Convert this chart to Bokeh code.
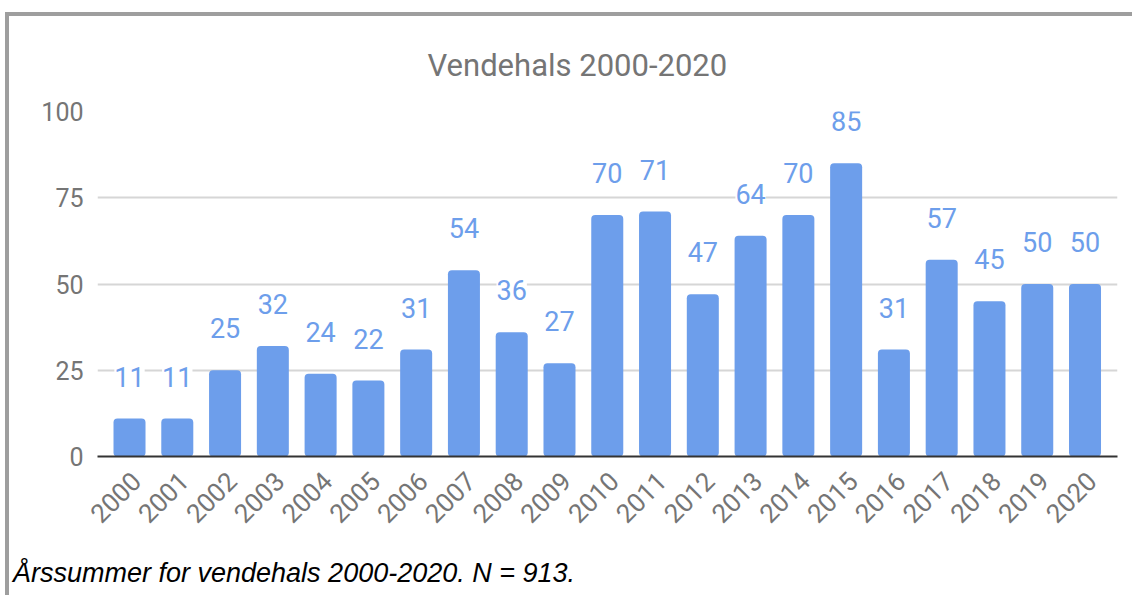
import math
from bokeh.plotting import figure
from bokeh.layouts import column
from bokeh.models import Range1d, FixedTicker, ColumnDataSource, LabelSet, Div
from bokeh.core.properties import value
from bokeh.embed import file_html
from bokeh.resources import INLINE

years = ["2000", "2001", "2002", "2003", "2004", "2005", "2006", "2007", "2008", "2009",
         "2010", "2011", "2012", "2013", "2014", "2015", "2016", "2017", "2018", "2019", "2020"]
counts = [11, 11, 25, 32, 24, 22, 31, 54, 36, 27, 70, 71, 47, 64, 70, 85, 31, 57, 45, 50, 50]
y_ticks = [0, 25, 50, 75, 100]
title_text = "Vendehals 2000-2020"
caption_text = "Årssummer for vendehals 2000-2020. N = 913."

BAR = "#6d9eeb"
GRAY = "#757575"
FONT = "Roboto"
BORDER = "4px solid #9e9e9e"

xs = list(range(len(years)))
src = ColumnDataSource(dict(x=xs, top=counts, lbl=[str(c) for c in counts]))

p = figure(width=1123, height=539, output_backend="svg", toolbar_location=None,
           x_range=Range1d(-0.67, len(years) - 1 + 0.68), y_range=Range1d(0, 100),
           min_border_left=88, min_border_right=15, min_border_top=94, min_border_bottom=99)
p.outline_line_color = None
p.background_fill_color = "white"
p.border_fill_color = "white"

p.vbar(x="x", top="top", width=0.67, bottom=0, source=src, fill_color=BAR, line_color=None,
       border_radius=4)

# title
p.title.text = title_text
p.title.align = "left"
p.title.offset = 330
p.title.standoff = 56
p.title.text_font = FONT
p.title.text_font_size = "31px"
p.title.text_font_style = "normal"
p.title.text_color = GRAY

# x axis
shift = 0.14
p.xaxis.ticker = FixedTicker(ticks=[i + shift for i in xs])
p.xaxis.major_label_overrides = {i + shift: y for i, y in enumerate(years)}
p.xaxis.major_label_orientation = math.pi / 4
p.xaxis.axis_line_color = "#333333"
p.xaxis.axis_line_width = 2
p.xaxis.major_tick_line_color = None
p.xaxis.minor_tick_line_color = None
p.xaxis.major_label_text_font = FONT
p.xaxis.major_label_text_font_size = "26px"
p.xaxis.major_label_text_color = GRAY
p.xaxis.major_label_standoff = 14
p.xgrid.grid_line_color = None

# y axis
p.yaxis.ticker = FixedTicker(ticks=y_ticks)
p.yaxis.axis_line_color = None
p.yaxis.major_tick_line_color = None
p.yaxis.minor_tick_line_color = None
p.yaxis.major_label_text_font = FONT
p.yaxis.major_label_text_font_size = "25px"
p.yaxis.major_label_text_color = GRAY
p.yaxis.major_label_standoff = 8
p.ygrid.grid_line_color = "#d6d6d6"
p.ygrid.grid_line_width = 2

labels = LabelSet(x="x", y="top", text="lbl", source=src, y_offset=32,
                  text_align="center", text_baseline="alphabetic",
                  text_font=value(FONT), text_font_size=value("27px"), text_color=BAR,
                  background_fill_color="white")
p.add_layout(labels)

# caption
cap = Div(text=caption_text, width=1123, height=40,
          styles={"padding-left": "4px", "padding-top": "5px",
                  "box-sizing": "border-box",
                  "font-family": "'Liberation Sans', Arial, sans-serif",
                  "font-style": "italic", "font-size": "27px", "line-height": "1",
                  "color": "black", "white-space": "nowrap", "margin": "0"})

layout = column(p, cap, spacing=0,
                styles={"margin-top": "12px", "margin-left": "5px",
                        "border-top": BORDER, "border-left": BORDER})
open("out.html", "w").write(file_html(layout, INLINE))
